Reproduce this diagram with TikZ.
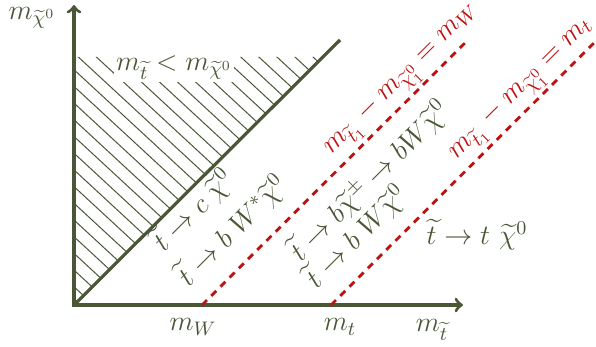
\documentclass[tikz,border=0pt]{standalone}
\usepackage{fix-cm}
\usepackage{amssymb}
\usepackage{amsmath}
\definecolor{olv}{RGB}{74,87,54}
\definecolor{rd}{RGB}{190,18,18}
\tikzset{axs/.style={line width=1.6pt, draw=olv}}
\tikzset{lim/.style={line width=1.4pt, draw=rd, dash pattern=on 3.5pt off 3pt}}
\tikzset{lbl/.style={text=olv, font=\fontsize{14}{17}\selectfont}}
\tikzset{rlbl/.style={text=rd, font=\fontsize{14}{17}\selectfont, sloped, above, inner sep=1pt}}

\begin{document}
\begin{tikzpicture}[x=0.5pt,y=-0.5pt]
\useasboundingbox (0,0) rectangle (596,347);
\coordinate (o) at (74,305);
\coordinate (ytip) at (74,5);
\coordinate (xtip) at (463,305);
\coordinate (d) at (340,40);
\coordinate (w) at (202,305);
\coordinate (wend) at (468,40);
\coordinate (t) at (331,305);
\coordinate (tend) at (597,40);

% excluded region
\begin{scope}
\clip (o) -- (74,57) -- (322,57) -- cycle;
\draw[olv, line width=0.5pt]
\foreach \k in {-16,...,16}{(74,53+16.7*\k) -- ++(400,370)}
;
\end{scope}
\draw[axs] (o) -- (d);
\draw[axs, <->] (ytip) -- (o) -- (xtip);

\draw[lim] (w) -- (wend) node[rlbl, pos=0.8] (limw) {$m_{\widetilde t_1}-m_{\widetilde\chi^0_1}=m_W$};
\draw[lim] (t) -- (tend) node[rlbl, pos=0.765] (limt) {$m_{\widetilde t_1}-m_{\widetilde\chi^0_1}=m_t$};

\node[lbl] (ylab) at (32,18) {$m_{\widetilde\chi^0}$};
\node[lbl, fill=white, inner sep=1pt] (excl) at (174,68) {$m_{\widetilde t} < m_{\widetilde\chi^0}$};
\node[lbl] (mw) at (193,327) {$m_W$};
\node[lbl] (mt) at (340,327) {$m_t$};
\node[lbl] (mst) at (432,330) {$m_{\widetilde t}$};

\node[lbl, rotate=45] (cchi) at (193,210) {$\widetilde t\to c\;\widetilde\chi^0$};
\node[lbl, rotate=45] (bwstar) at (232,230) {$\widetilde t\to b\;W^*\widetilde\chi^0$};
\node[lbl, rotate=45] (bchipm) at (369,180) {$\widetilde t\to b\widetilde\chi^\pm\to bW\widetilde\chi^0$};
\node[lbl, rotate=45] (bwchi) at (356,236) {$\widetilde t\to b\;W\widetilde\chi^0$};
\node[lbl] (tchi) at (477,235) {$\widetilde t\to t\ \widetilde\chi^0$};
\end{tikzpicture}
\end{document}
